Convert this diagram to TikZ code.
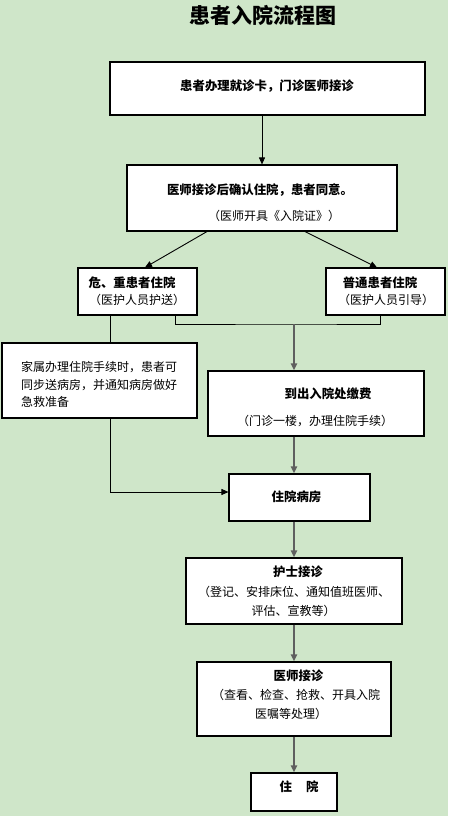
\documentclass[tikz,border=0pt]{standalone}
\usepackage{fontspec}
\setmainfont{Noto Sans CJK SC}
\usepackage{tikz}
\usetikzlibrary{arrows.meta}
\definecolor{bggreen}{RGB}{207,230,201}
\definecolor{linegray}{RGB}{95,95,95}
\tikzset{
  box/.style={draw=black,line width=1.1pt,fill=white,inner sep=0pt},
  lbl/.style={inner sep=0pt,font=\fontsize{12}{12}\selectfont},
  blbl/.style={lbl,font=\fontsize{12.4}{12}\selectfont\bfseries},
  titletext/.style={font=\fontsize{21}{21}\selectfont\bfseries,inner sep=0pt},
  link/.style={draw=black,line width=0.9pt},
  flow/.style={link,-{Triangle[length=7pt,width=6pt]}},
  flowgray/.style={draw=linegray,line width=1.8pt,-{Triangle[length=7pt,width=6pt]}}
}
\newcommand{\flowbox}[5]{\node[box,minimum width=#4pt,minimum height=#5pt] (#1) at ( #2 , #3 ) {};}
\newcommand{\lablhead}[4]{\node[blbl] (#1) at ( #2 , #3 ) {#4};}
\newcommand{\labltext}[4]{\node[lbl] (#1) at ( #2 , #3 ) {#4};}

\begin{document}
\begin{tikzpicture}[x=1pt,y=-1pt]
        % background
        \fill[bggreen] (0,0) rectangle (448,816);
        \useasboundingbox (0,0) rectangle (448,816);

        % title
        \node[titletext] (title) at (262.5,15) {患者入院流程图};

        % boxes
        \flowbox{card}{267.5}{88.5}{315}{53}
        \flowbox{admit}{262}{198}{270}{66}
        \flowbox{severe}{137.5}{291.5}{119}{47}
        \flowbox{normal}{385.5}{291.5}{119}{47}
        \flowbox{family}{99.5}{380.5}{195}{75}
        \flowbox{pay}{316}{403.5}{216}{65}
        \flowbox{ward}{299.5}{497.5}{141}{47}
        \flowbox{nurse}{294}{591}{216}{66}
        \flowbox{doctor}{294}{699}{194}{74}
        \flowbox{stay}{294}{792}{86}{38}

        % labels
        \lablhead{cardA}{267}{86}{患者办理就诊卡，门诊医师接诊}
        \lablhead{admitA}{260}{190}{医师接诊后确认住院，患者同意。}
        \labltext{admitB}{274}{216}{（医师开具《入院证》）}
        \lablhead{severeA}{132}{283}{危、重患者住院}
        \labltext{severeB}{137}{300}{（医护人员护送）}
        \lablhead{normalA}{380}{283}{普通患者住院}
        \labltext{normalB}{386}{300}{（医护人员引导）}
        \node[lbl,anchor=west] (familyA) at (21,367) {家属办理住院手续时，患者可};
        \node[lbl,anchor=west] (familyB) at (21,385) {同步送病房，并通知病房做好};
        \node[lbl,anchor=west] (familyC) at (21,402) {急救准备};
        \lablhead{payA}{328}{394}{到出入院处缴费}
        \labltext{payB}{315}{421}{（门诊一楼，办理住院手续）}
        \lablhead{wardA}{296.5}{497}{住院病房}
        \lablhead{nurseA}{298}{572}{护士接诊}
        \labltext{nurseB}{294}{592}{（登记、安排床位、通知值班医师、}
        \labltext{nurseC}{293.5}{611}{评估、宣教等）}
        \lablhead{doctorA}{298.5}{676}{医师接诊}
        \labltext{doctorB}{296}{695}{（查看、检查、抢救、开具入院}
        \labltext{doctorC}{291}{714}{医嘱等处理）}
        \lablhead{stayA}{299}{787}{住\hspace{14pt}院}

        % arrows top
        \draw[flow] (card.south -| admit.north) -- (admit.north);
        \draw[flow] ([xshift=-55pt]admit.south) -- ([xshift=7.5pt]severe.north);
        \draw[flow] ([xshift=43pt]admit.south) -- ([xshift=-8.5pt]normal.north);

        % severe patients
        \coordinate (escort) at ([xshift=-27.5pt]severe.south);
        \coordinate (famout) at (escort |- family.south);
        \draw[link] (escort) -- (escort |- family.north);
        \draw[flow] (famout) |- ([yshift=5.5pt]ward.west);

        % merge of both
        \coordinate (mergeL) at ([xshift=37.5pt]severe.south);
        \coordinate (mergeR) at ([xshift=-5.5pt]normal.south);
        \coordinate (join) at (294,324);
        \draw[link] (mergeL) |- (join) -| (mergeR);
        \draw[flowgray] (join) -- (join |- pay.north);
        \draw[flowgray] (join |- pay.south) -- (join |- ward.north);
        \draw[flowgray] (join |- ward.south) -- (nurse.north);
        \draw[flowgray] (nurse) -- (doctor);
        \draw[flowgray] (doctor) -- (stay);
\end{tikzpicture}
\end{document}
